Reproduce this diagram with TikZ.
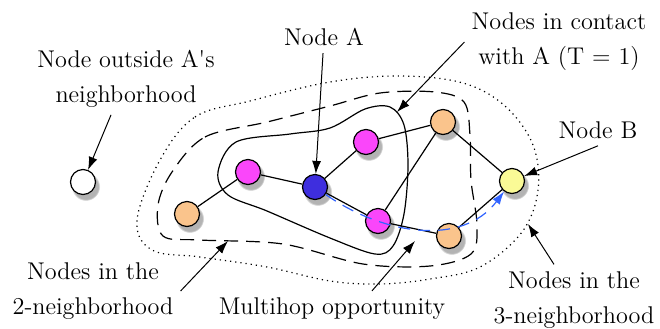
\documentclass[tikz,border=0pt]{standalone}
\usetikzlibrary{arrows.meta,shadows}

\definecolor{magNode}{RGB}{250,70,250}
\definecolor{blueNode}{RGB}{62,46,222}
\definecolor{orangeNode}{RGB}{250,196,140}
\definecolor{yellowNode}{RGB}{250,250,150}
\definecolor{hopBlue}{RGB}{50,100,255}

\tikzset{
  netnode/.style={circle, draw, line width=0.6pt, minimum size=12.5pt, inner sep=0pt,
    circular drop shadow={shadow xshift=1.2pt, shadow yshift=-2pt, shadow scale=1.15, opacity=0.6}},
  lbl/.style={align=center, font=\fontsize{12.1}{17.5}\selectfont},
  pointer/.style={-{Latex[length=6.5pt,width=4.5pt]}, line width=0.5pt},
}

\begin{document}
\begin{tikzpicture}[x=0.5pt, y=-0.5pt, line width=0.6pt]
\useasboundingbox (0,0) rectangle (660,328);

% Nachbarschaften
\draw[dotted, line width=0.6pt] plot[smooth cycle, tension=0.6] coordinates {(160,160) (195,117) (250,101) (330,82) (400,76) (463,83) (505,106) (533,145) (538,190) (522,232) (480,267) (430,279) (380,284) (330,281) (267,267) (200,257) (152,250) (137,220)};
\draw[dash pattern=on 7pt off 4pt] plot[smooth cycle, tension=0.55] coordinates {(172,172) (205,137) (267,122) (330,106) (380,93) (435,92) (464,102) (470,135) (471,180) (477,225) (471,254) (430,266) (363,264) (283,244) (200,240) (163,236) (158,205)};
\draw plot[smooth cycle, tension=0.55] coordinates {(218,172) (236,142) (290,134) (330,128) (365,109) (390,107) (404,125) (408,165) (404,214) (393,246) (375,254) (330,238) (267,211) (228,195)};

% Knoten
\node[netnode, fill=white] (W) at (83,182) {};
\node[netnode, fill=orangeNode] (O1) at (187,214) {};
\node[netnode, fill=magNode] (M1) at (248,172) {};
\node[netnode, fill=blueNode] (A) at (315,187) {};
\node[netnode, fill=magNode] (M2) at (366,142) {};
\node[netnode, fill=orangeNode] (O2) at (443,122) {};
\node[netnode, fill=magNode] (M3) at (378,221) {};
\node[netnode, fill=orangeNode] (O3) at (449,236) {};
\node[netnode, fill=yellowNode] (B) at (512,181) {};

% Kanten
\draw (O1) -- (M1);
\draw (M1) -- (A);
\draw (A) -- (M2);
\draw (M2) -- (O2);
\draw (A) -- (M3);
\draw (M3) -- (O2);
\draw (M3) -- (O3);
\draw (O2) -- (B);
\draw (O3) -- (B);

% Multihop
\draw[hopBlue, dash pattern=on 6pt off 4pt, -{Latex[length=6.5pt,width=4.5pt]}] (A) to[out=-35, in=-127] (B);

% Beschriftungen
\node[lbl] (outTxt) at (126,79) {Node outside A\textquotesingle s\\neighborhood};
\node[lbl] (aTxt) at (324,37) {Node A};
\node[lbl] (contactTxt) at (559,42) {Nodes in contact\\with A (T = 1)};
\node[lbl] (bTxt) at (598,130) {Node B};
\node[lbl] (twoTxt) at (93,291) {Nodes in the\\2-neighborhood};
\node[lbl] (multiTxt) at (332,309) {Multihop opportunity};
\node[lbl] (threeTxt) at (574,300) {Nodes in the\\3-neighborhood};

\coordinate (c1) at (397,112);
\coordinate (c2) at (228,241);
\coordinate (c3) at (415,241);
\coordinate (c4) at (528,224);

\draw[pointer] (outTxt) -- (W);
\draw[pointer] (aTxt) -- (A);
\draw[pointer] (contactTxt.west) -- (c1);
\draw[pointer] (bTxt.south) -- (B);
\draw[pointer] (twoTxt.east) -- (c2);
\draw[pointer] ([xshift=20pt]multiTxt.north) -- (c3);
\draw[pointer] ([xshift=-10pt]threeTxt.north) -- (c4);

\end{tikzpicture}
\end{document}
